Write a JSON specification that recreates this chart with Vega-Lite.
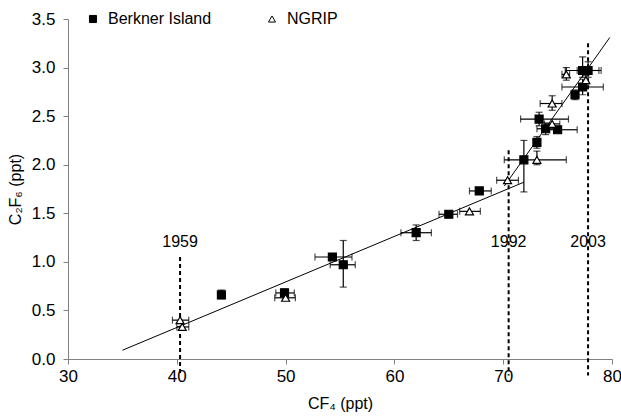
{
  "$schema": "https://vega.github.io/schema/vega-lite/v6.json",
  "width": 544,
  "height": 340,
  "autosize": "none",
  "padding": {"left": 68, "top": 19, "right": 9, "bottom": 60},
  "background": "white",
  "config": {
    "view": {"stroke": null},
    "font": "Liberation Sans",
    "axis": {"grid": false, "labelFlush": false, "domainColor": "#808080", "tickColor": "#808080", "labelFontSize": 17, "titleFontSize": 16, "titleFontWeight": "normal", "labelColor": "black", "titleColor": "black", "labelFont": "Liberation Sans", "titleFont": "Liberation Sans"}
  },
  "datasets": {
    "pts": [
      {"site": "Berkner Island", "x": 44.1, "y": 0.66, "xlo": null, "xhi": null, "ylo": 0.62, "yhi": 0.71},
      {"site": "Berkner Island", "x": 49.9, "y": 0.68, "xlo": 49.1, "xhi": 50.8, "ylo": 0.64, "yhi": 0.72},
      {"site": "Berkner Island", "x": 54.3, "y": 1.05, "xlo": 52.7, "xhi": 56.1, "ylo": null, "yhi": null},
      {"site": "Berkner Island", "x": 55.3, "y": 0.97, "xlo": 54.1, "xhi": 56.4, "ylo": 0.74, "yhi": 1.22},
      {"site": "Berkner Island", "x": 62.0, "y": 1.3, "xlo": 60.6, "xhi": 63.4, "ylo": 1.22, "yhi": 1.38},
      {"site": "Berkner Island", "x": 65.0, "y": 1.49, "xlo": 64.1, "xhi": 65.8, "ylo": null, "yhi": null},
      {"site": "Berkner Island", "x": 67.8, "y": 1.73, "xlo": 66.9, "xhi": 68.9, "ylo": null, "yhi": null},
      {"site": "Berkner Island", "x": 71.9, "y": 2.05, "xlo": 70.1, "xhi": 75.8, "ylo": 1.72, "yhi": 2.25},
      {"site": "Berkner Island", "x": 73.1, "y": 2.23, "xlo": null, "xhi": null, "ylo": 2.17, "yhi": 2.29},
      {"site": "Berkner Island", "x": 73.3, "y": 2.47, "xlo": 71.6, "xhi": 76.0, "ylo": 2.4, "yhi": 2.54},
      {"site": "Berkner Island", "x": 73.9, "y": 2.37, "xlo": 73.1, "xhi": 74.8, "ylo": 2.31, "yhi": 2.43},
      {"site": "Berkner Island", "x": 75.0, "y": 2.36, "xlo": 74.2, "xhi": 76.8, "ylo": null, "yhi": null},
      {"site": "Berkner Island", "x": 76.6, "y": 2.72, "xlo": null, "xhi": null, "ylo": 2.67, "yhi": 2.77},
      {"site": "Berkner Island", "x": 77.3, "y": 2.8, "xlo": 75.4, "xhi": 79.2, "ylo": 2.72, "yhi": 2.88},
      {"site": "Berkner Island", "x": 77.3, "y": 2.97, "xlo": 75.7, "xhi": 79.0, "ylo": 2.9, "yhi": 3.11},
      {"site": "Berkner Island", "x": 77.8, "y": 2.97, "xlo": 76.8, "xhi": 78.8, "ylo": 2.9, "yhi": 3.06},
      {"site": "NGRIP", "x": 40.3, "y": 0.4, "xlo": 39.6, "xhi": 41.1, "ylo": null, "yhi": null},
      {"site": "NGRIP", "x": 40.5, "y": 0.33, "xlo": 40.0, "xhi": 41.1, "ylo": null, "yhi": null},
      {"site": "NGRIP", "x": 50.0, "y": 0.63, "xlo": 49.0, "xhi": 50.9, "ylo": null, "yhi": null},
      {"site": "NGRIP", "x": 66.9, "y": 1.52, "xlo": 66.0, "xhi": 67.9, "ylo": null, "yhi": null},
      {"site": "NGRIP", "x": 70.4, "y": 1.84, "xlo": 69.4, "xhi": 71.4, "ylo": null, "yhi": null},
      {"site": "NGRIP", "x": 73.1, "y": 2.05, "xlo": null, "xhi": null, "ylo": 2.0, "yhi": 2.14},
      {"site": "NGRIP", "x": 74.5, "y": 2.63, "xlo": 73.4, "xhi": 75.4, "ylo": 2.56, "yhi": 2.71},
      {"site": "NGRIP", "x": 74.5, "y": 2.42, "xlo": 73.8, "xhi": 75.2, "ylo": null, "yhi": null},
      {"site": "NGRIP", "x": 75.8, "y": 2.93, "xlo": 75.4, "xhi": 76.1, "ylo": 2.87, "yhi": 3.0},
      {"site": "NGRIP", "x": 77.6, "y": 2.87, "xlo": null, "xhi": null, "ylo": 2.82, "yhi": 2.92}
    ],
    "fit": [
      {"seg": "a", "x": 35.0, "y": 0.09},
      {"seg": "a", "x": 71.9, "y": 1.82},
      {"seg": "b", "x": 70.1, "y": 1.78},
      {"seg": "b", "x": 79.8, "y": 3.31}
    ],
    "years": [
      {"year": "1959", "x": 40.3, "ytop": 1.05, "ybot": -0.17, "ylab": 1.2},
      {"year": "1992", "x": 70.5, "ytop": 2.15, "ybot": -0.17, "ylab": 1.2},
      {"year": "2003", "x": 77.8, "ytop": 3.25, "ybot": -0.17, "ylab": 1.2}
    ]
  },
  "layer": [
    {
      "data": {"name": "years"},
      "mark": {"type": "rule", "strokeDash": [4, 3], "strokeWidth": 2, "color": "black", "clip": false},
      "encoding": {
        "x": {"field": "x", "type": "quantitative", "scale": {"domain": [30, 80]}, "title": "CF₄ (ppt)", "axis": {"values": [30, 40, 50, 60, 70, 80], "tickSize": 5, "labelPadding": 4, "titlePadding": 11}},
        "y": {"field": "ytop", "type": "quantitative", "scale": {"domain": [0, 3.5]}, "title": "C₂F₆ (ppt)", "axis": {"values": [0, 0.5, 1, 1.5, 2, 2.5, 3, 3.5], "format": ".1f", "tickSize": 5, "labelPadding": 8, "titlePadding": 8}},
        "y2": {"field": "ybot"}
      }
    },
    {
      "data": {"name": "years"},
      "mark": {"type": "text", "fontSize": 16, "color": "black", "font": "Liberation Sans"},
      "encoding": {
        "x": {"field": "x", "type": "quantitative", "title": "CF₄ (ppt)"},
        "y": {"field": "ylab", "type": "quantitative", "title": "C₂F₆ (ppt)"},
        "text": {"field": "year"}
      }
    },
    {
      "data": {"name": "fit"},
      "mark": {"type": "line", "color": "black", "strokeWidth": 1},
      "encoding": {
        "x": {"field": "x", "type": "quantitative", "title": "CF₄ (ppt)"},
        "y": {"field": "y", "type": "quantitative", "title": "C₂F₆ (ppt)"},
        "detail": {"field": "seg"}
      }
    },
    {
      "data": {"name": "pts"},
      "transform": [{"filter": "datum.xlo != null"}],
      "mark": {"type": "errorbar", "ticks": {"size": 7}, "color": "black", "thickness": 1.2},
      "encoding": {
        "x": {"field": "xlo", "type": "quantitative", "title": "CF₄ (ppt)"},
        "x2": {"field": "xhi"},
        "y": {"field": "y", "type": "quantitative", "title": "C₂F₆ (ppt)"}
      }
    },
    {
      "data": {"name": "pts"},
      "transform": [{"filter": "datum.ylo != null"}],
      "mark": {"type": "errorbar", "ticks": {"size": 7}, "color": "black", "thickness": 1.2},
      "encoding": {
        "y": {"field": "ylo", "type": "quantitative", "title": "C₂F₆ (ppt)"},
        "y2": {"field": "yhi"},
        "x": {"field": "x", "type": "quantitative", "title": "CF₄ (ppt)"}
      }
    },
    {
      "data": {"name": "pts"},
      "mark": {"type": "point", "size": 64, "strokeWidth": 1.2, "opacity": 1, "fillOpacity": 1},
      "encoding": {
        "x": {"field": "x", "type": "quantitative", "title": "CF₄ (ppt)"},
        "y": {"field": "y", "type": "quantitative", "title": "C₂F₆ (ppt)"},
        "shape": {"field": "site", "type": "nominal", "scale": {"domain": ["Berkner Island", "NGRIP"], "range": ["square", "triangle-up"]}, "legend": {"title": null, "orient": "none", "direction": "horizontal", "legendX": 17, "legendY": -8, "labelFontSize": 16, "labelFont": "Liberation Sans", "labelOffset": 7, "columnPadding": 52, "symbolSize": 50, "symbolStrokeWidth": 1}},
        "fill": {"field": "site", "type": "nominal", "scale": {"domain": ["Berkner Island", "NGRIP"], "range": ["black", "white"]}},
        "stroke": {"field": "site", "type": "nominal", "scale": {"domain": ["Berkner Island", "NGRIP"], "range": ["black", "black"]}}
      }
    }
  ]
}
